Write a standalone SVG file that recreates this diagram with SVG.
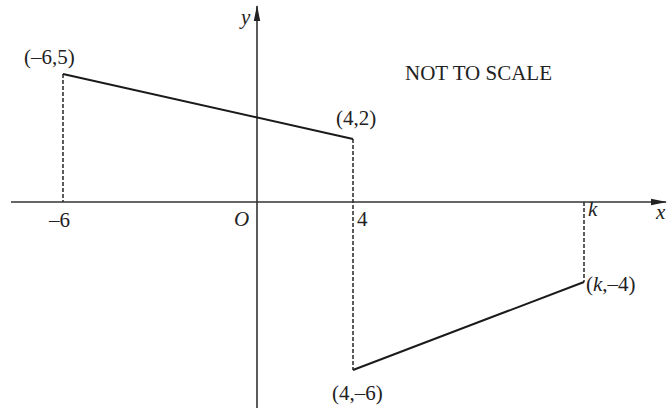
<svg xmlns="http://www.w3.org/2000/svg" width="667" height="408" viewBox="0 0 667 408">
<defs>
<marker id="arr" markerWidth="16" markerHeight="8" refX="15" refY="4" orient="auto" markerUnits="userSpaceOnUse">
<path d="M0,0.8 L16,4 L0,7.2 Z" fill="#222"/>
</marker>
<style>
.axis{stroke:#333;stroke-width:1.6;fill:none}
.seg{stroke:#1a1a1a;stroke-width:2;fill:none}
.dash{stroke:#333;stroke-width:1.6;stroke-dasharray:4,2;fill:none}
text{font-family:"Liberation Serif","Times New Roman",serif;font-size:21px;fill:#222}
.it{font-style:italic}
</style>
</defs>
<rect width="667" height="408" fill="#fff"/>
<g id="connectors">
<line class="axis" x1="11" y1="202" x2="666" y2="202" marker-end="url(#arr)"/>
<line class="axis" x1="257" y1="408" x2="257" y2="6" marker-end="url(#arr)"/>
<line class="dash" x1="63" y1="74" x2="63" y2="202"/>
<line class="dash" x1="353" y1="139" x2="353" y2="370"/>
<line class="dash" x1="584" y1="202" x2="584" y2="282"/>
<polyline class="seg" points="63,74 353,139"/>
<polyline class="seg" points="353,370 584,282"/>
</g>
<g id="label-y"><text class="it" x="241" y="24">y</text></g>
<g id="label-x"><text class="it" x="656" y="219">x</text></g>
<g id="label-O"><text class="it" x="234" y="226">O</text></g>
<g id="label-m6"><text x="49" y="227">–6</text></g>
<g id="label-4"><text x="357" y="226">4</text></g>
<g id="label-k"><text class="it" x="588" y="216">k</text></g>
<g id="point-m6-5"><text x="24" y="64">(–6,5)</text></g>
<g id="point-4-2"><text x="336" y="125">(4,2)</text></g>
<g id="point-4-m6"><text x="332" y="400">(4,–6)</text></g>
<g id="point-k-m4"><text x="586" y="291">(<tspan class="it">k</tspan>,–4)</text></g>
<g id="note"><text x="405" y="80">NOT TO SCALE</text></g>
</svg>
